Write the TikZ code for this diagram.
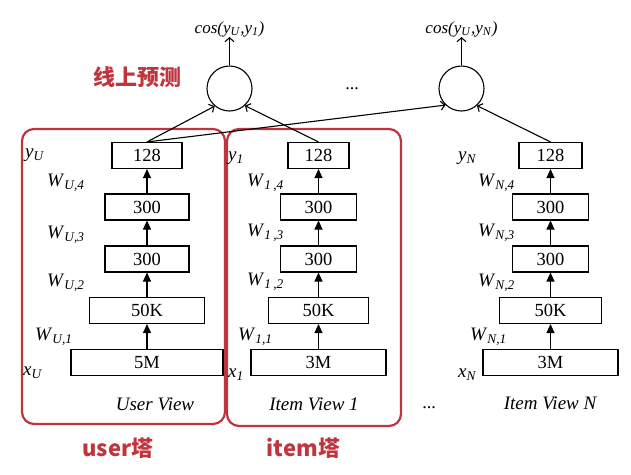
\documentclass[tikz,border=0pt]{standalone}
\usepackage{fontspec}
\setmainfont{Liberation Serif}
\newfontfamily\cjk{Noto Sans CJK SC}
\usetikzlibrary{arrows.meta}
\definecolor{redc}{RGB}{192,52,62}
\newcommand\lsub[2]{\textit{#1}\textsubscript{\textit{#2}}}
\begin{document}
\begin{tikzpicture}[x=1pt,y=-1pt,
  layer/.style={draw,line width=1.1pt,minimum height=26pt,inner sep=0pt,font=\fontsize{18.5}{20}\selectfont},
  lbl/.style={inner sep=0pt,anchor=west,font=\fontsize{19}{21}\selectfont},
  layerarrow/.style={line width=1.1pt,-{Triangle[length=9pt,width=8pt]}},
  simnode/.style={draw,circle,line width=1.1pt,minimum size=45pt,inner sep=0pt},
  conn/.style={line width=1.1pt,-{Straight Barb[length=4pt,width=9pt]}},
  groupframe/.style={draw=redc,line width=2.2pt,rounded corners=12pt,inner sep=0pt},
  redtxt/.style={text=redc,font=\cjk\bfseries\fontsize{22}{24}\selectfont,inner sep=0pt},
  viewtxt/.style={font=\itshape\fontsize{19}{21}\selectfont,inner sep=0pt},
  costxt/.style={font=\fontsize{17}{19}\selectfont,inner sep=0pt,anchor=south}]
\useasboundingbox (0,0) rectangle (631,474);

% red group frames
\node[groupframe,minimum width=203pt,minimum height=295pt] (ufr) at (123.5,276.5) {};
\node[groupframe,minimum width=174pt,minimum height=297pt] (ifr) at (314,277.5) {};

% user tower
\node[layer,minimum width=152pt] (u1) at (147,362.5) {5M};
\node[layer,minimum width=115pt] (u2) at (147,310.5) {50K};
\node[layer,minimum width=84pt]  (u3) at (147,259) {300};
\node[layer,minimum width=84pt]  (u4) at (147,207) {300};
\node[layer,minimum width=70pt]  (u5) at (147,155.5) {128};
% item 1 tower
\node[layer,minimum width=135pt] (i1) at (318.5,362.5) {3M};
\node[layer,minimum width=100pt] (i2) at (318.5,310.5) {50K};
\node[layer,minimum width=76pt]  (i3) at (318.5,259) {300};
\node[layer,minimum width=76pt]  (i4) at (318.5,207) {300};
\node[layer,minimum width=61pt]  (i5) at (318.5,155.5) {128};
% item N tower
\node[layer,minimum width=135pt] (n1) at (550.5,362.5) {3M};
\node[layer,minimum width=102pt] (n2) at (550.5,310.5) {50K};
\node[layer,minimum width=76pt]  (n3) at (550.5,259) {300};
\node[layer,minimum width=76pt]  (n4) at (550.5,207) {300};
\node[layer,minimum width=63pt]  (n5) at (550.5,155.5) {128};

\foreach \t in {u,i,n}{
  \draw[layerarrow] (\t1.north) -- (\t2.south);
  \draw[layerarrow] (\t2.north) -- (\t3.south);
  \draw[layerarrow] (\t3.north) -- (\t4.south);
  \draw[layerarrow] (\t4.north) -- (\t5.south);
}

% labels user
\node[lbl] (lyu) at (25,155) {\lsub{y}{U}};
\node[lbl] (lw4u) at (47,183) {\lsub{W}{U,4}};
\node[lbl] (lw3u) at (47,235) {\lsub{W}{U,3}};
\node[lbl] (lw2u) at (47,283) {\lsub{W}{U,2}};
\node[lbl] (lw1u) at (35,337) {\lsub{W}{U,1}};
\node[lbl] (lxu) at (23,373) {\lsub{x}{U}};
% labels item 1
\node[lbl] (ly1) at (228,158) {\lsub{y}{1}};
\node[lbl] (lw41) at (247,183) {\lsub{W}{1\,,4}};
\node[lbl] (lw31) at (247,233) {\lsub{W}{1\,,3}};
\node[lbl] (lw21) at (247,282) {\lsub{W}{1\,,2}};
\node[lbl] (lw11) at (238,337) {\lsub{W}{1,1}};
\node[lbl] (lx1) at (228,375) {\lsub{x}{1}};
% labels item N
\node[lbl] (lyn) at (458,158) {\lsub{y}{N}};
\node[lbl] (lw4n) at (478,183) {\lsub{W}{N,4}};
\node[lbl] (lw3n) at (478,233) {\lsub{W}{N,3}};
\node[lbl] (lw2n) at (478,283) {\lsub{W}{N,2}};
\node[lbl] (lw1n) at (470,337) {\lsub{W}{N,1}};
\node[lbl] (lxn) at (458,375) {\lsub{x}{N}};

% view captions
\node[viewtxt] (vu) at (155,404) {User View};
\node[viewtxt] (v1) at (314,404) {Item View 1};
\node[viewtxt] (vn) at (550,403) {Item View N};
\node[inner sep=0pt,anchor=base,font=\fontsize{18}{20}\selectfont] (bdots) at (429,408) {...};

% cosine nodes
\node[simnode] (c1) at (229.5,88.5) {};
\node[simnode] (c2) at (461.5,88.5) {};
\node[costxt] (t1) at (229.5,37) {\textit{cos(y}\textsubscript{\textit{U}}\textit{,y}\textsubscript{\textit{1}}\textit{)}};
\node[costxt] (t2) at (461.5,37) {\textit{cos(y}\textsubscript{\textit{U}}\textit{,y}\textsubscript{\textit{N}}\textit{)}};
\draw[conn] (c1.north) -- (t1.south);
\draw[conn] (c2.north) -- (t2.south);
\node[inner sep=0pt,anchor=base,font=\fontsize{18}{20}\selectfont] (tdots) at (352,89) {...};

\draw[conn] (u5.north) -- (c1.230);
\draw[conn] (u5.north) -- (c2.226);
\draw[conn] (i5.north) -- (c1.312);
\draw[conn] (n5.north) -- (c2.312);

% red annotations
\node[redtxt] (online) at (137,77) {线上预测};
\node[redtxt] (utower) at (118,448) {user塔};
\node[redtxt] (itower) at (303.5,448) {item塔};
\end{tikzpicture}
\end{document}
